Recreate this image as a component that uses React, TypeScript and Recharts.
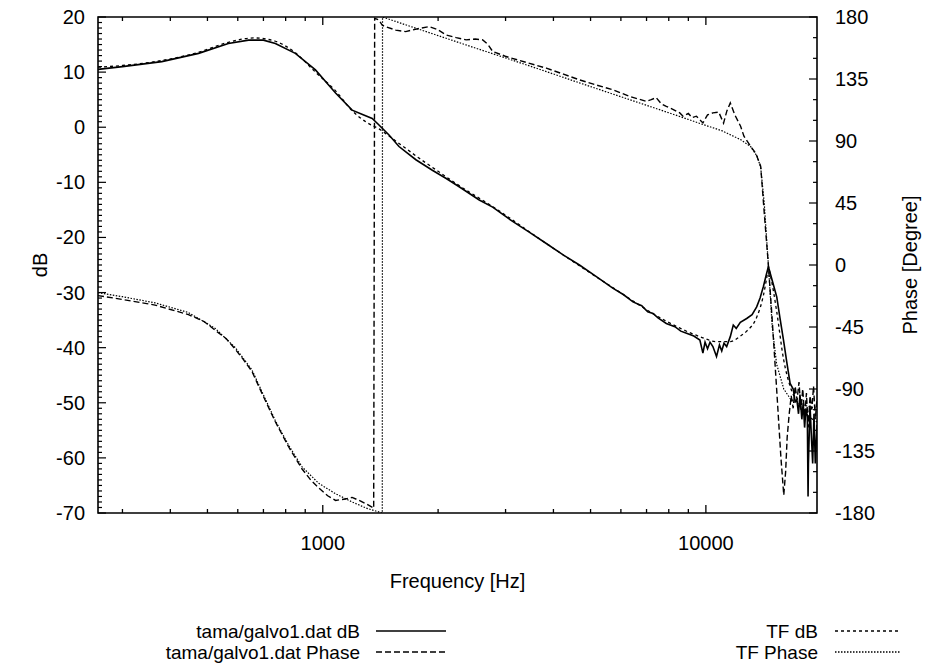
import { ComposedChart, Line, XAxis, YAxis, ReferenceArea, Legend } from "recharts";

type Pt = [number, number];

// frequency [Hz], value
const galvoDb: Pt[] = [
  [259, 10.5], [300, 11.0], [380, 11.9], [474, 13.4], [567, 15.2], [640, 15.8], [700, 15.8],
  [752, 15.2], [848, 13.4], [957, 10.4], [1080, 6.2], [1193, 3.1], [1270, 2.3], [1346, 1.6],
  [1402, 0.4], [1489, -1.4], [1581, -3.5], [1750, -5.9], [1932, -7.8], [2100, -9.3],
  [2270, -10.8], [2561, -13.2], [2776, -14.5], [3130, -17.1], [3450, -19.0], [3832, -21.1],
  [4250, -23.2], [4677, -25.0], [5200, -27.2], [5714, -29.2], [6100, -30.4], [6452, -31.7],
  [6800, -32.4], [7050, -33.5], [7278, -33.8], [7500, -34.6], [7883, -35.6], [8300, -36.2],
  [8600, -37.0], [8903, -37.4], [9300, -37.9], [9645, -38.6], [9822, -41.0], [9950, -39.0],
  [10100, -40.2], [10250, -39.0], [10430, -39.8], [10660, -41.6], [10850, -39.5], [11000, -40.6],
  [11150, -39.2], [11330, -39.8], [11580, -38.0], [11790, -35.9], [12000, -36.5], [12300, -35.4],
  [12780, -34.7], [13200, -34.0], [13570, -32.6], [13850, -31.0], [14130, -28.9], [14350, -27.0],
  [14560, -25.3], [14900, -27.8], [15310, -30.8], [15600, -34.5], [15940, -38.6], [16250, -42.5],
  [16590, -46.5], [16900, -47.5], [17100, -49.8], [17280, -49.5], [17450, -52.0], [17600, -48.5],
  [17800, -53.0], [17950, -50.0], [18100, -54.5], [18250, -51.0], [18400, -52.5], [18480, -67.0],
  [18520, -61.0], [18700, -50.5], [18850, -56.0], [19000, -61.0], [19150, -52.0], [19300, -61.0],
  [19500, -54.0],
];

const galvoPhase: Pt[] = [
  [259, -22.2], [300, -25], [365, -29.1], [446, -36.0], [490, -41], [524, -47.4], [560, -53.5],
  [591, -61.1], [620, -68.5], [653, -77.1], [694, -93.2], [752, -113.8], [815, -132.1],
  [883, -148.1], [930, -156], [976, -161.8], [1030, -167.5], [1080, -170.9], [1146, -169.8],
  [1193, -168.7], [1260, -171.5], [1320, -174.5], [1358, -176.5], [1366, 179], [1402, 177.8],
  [1430, 174], [1459, 173], [1550, 170.5], [1646, 169.4], [1770, 171.5], [1894, 173], [1990, 171],
  [2097, 167], [2230, 165], [2366, 163.4], [2500, 164], [2615, 163.4], [2700, 160], [2776, 155],
  [3011, 151.3], [3400, 147], [3832, 142.9], [4250, 138.5], [4677, 134.4], [5200, 130.5],
  [5714, 127.2], [6300, 122.5], [6984, 118.8], [7200, 120], [7418, 121.5], [7650, 117],
  [7883, 115.1], [8200, 113], [8546, 110.4], [8717, 108], [9000, 110], [9200, 107], [9445, 108],
  [9822, 103.1], [10100, 109], [10430, 110.4], [10800, 111], [11120, 103], [11350, 112],
  [11580, 117.6], [11900, 109], [12320, 100.7], [12570, 93.5], [13080, 86.2], [13500, 81],
  [13900, 71.7], [14200, 38], [14560, 0], [14900, -40], [15300, -90], [15700, -140],
  [15970, -167], [16150, -150], [16300, -125], [16500, -108], [16700, -95], [16900, -104],
  [17100, -88], [17300, -98], [17500, -85], [17700, -105], [17900, -90], [18100, -110],
  [18300, -93], [18500, -118], [18700, -95], [18900, -105], [19100, -88], [19300, -112],
  [19500, -97],
];

const tfDb: Pt[] = [
  [259, 10.9], [300, 11.2], [380, 12.1], [474, 13.6], [567, 15.4], [660, 16.2], [752, 15.6],
  [848, 13.5], [957, 10.0], [1080, 6.6], [1193, 3.0], [1300, 0.9], [1402, -0.3], [1489, -1.6],
  [1600, -3.2], [1800, -5.8], [2000, -8.0], [2270, -10.6], [2776, -14.4], [3832, -21.1],
  [5714, -29.1], [7883, -35.2], [9645, -38.0], [10660, -38.9], [11580, -38.9], [12300, -37.9],
  [12780, -37.0], [13570, -34.5], [14130, -30.5], [14400, -27.5], [14560, -25.6], [14800, -27.5],
  [15310, -33.5], [15940, -42.0], [16590, -47.0], [17280, -49.8], [18000, -51.5], [19000, -53.0],
  [19500, -53.5],
];

const tfPhase: Pt[] = [
  [259, -20.0], [300, -23.0], [365, -27.5], [446, -34.5], [524, -46.0], [591, -60.0],
  [653, -76.0], [694, -92.0], [752, -113.0], [815, -131.0], [883, -146.5], [976, -158.5],
  [1080, -166.0], [1193, -172.0], [1300, -176.5], [1430, -180.0], [1432, 180.0], [1700, 173],
  [2000, 166.5], [2500, 157.5], [3000, 150.3], [3832, 140.4], [4677, 132.2], [5714, 124.1],
  [7000, 115.9], [8546, 107.8], [9822, 102.0], [11000, 97.5], [12320, 91], [13080, 86],
  [13600, 79], [13900, 71], [14200, 45], [14560, 0], [14900, -45], [15300, -72], [15970, -90],
  [16600, -97], [17500, -101], [19500, -104],
];

const X_DOMAIN = [259, 19500];
const X_TICKS = [300, 400, 500, 600, 700, 800, 900, 1000, 2000, 3000, 4000, 5000, 6000, 7000, 8000, 9000, 10000];
const X_LABELS = [1000, 10000];
const DB_LABELS = [20, 10, 0, -10, -20, -30, -40, -50, -60, -70];
const PHASE_LABELS = [180, 135, 90, 45, 0, -45, -90, -135, -180];
const DB_TICKS = Array.from({ length: 91 }, (_, i) => -70 + i);
const PHASE_TICKS = Array.from({ length: 25 }, (_, i) => -180 + i * 15);

const LEGEND_LEFT = ["tama/galvo1.dat dB", "tama/galvo1.dat Phase"];
const LEGEND_RIGHT = ["TF dB", "TF Phase"];

const FONT = '"Liberation Sans", Arial, Helvetica, sans-serif';
const PLOT_TOP = 17;
const DASH = { galvoDb: undefined, galvoPhase: "6 3", tfDb: "3 3", tfPhase: "1.5 1.5" };

const toRows = (pts: Pt[]) => pts.map(([f, v]) => ({ f, v }));

const XTick = ({ x, y, payload }: any) => {
  const major = X_LABELS.includes(payload.value);
  const len = major ? 8 : 4;
  return (
    <g>
      <line x1={x} x2={x} y1={y} y2={y - len} stroke="#000" strokeWidth={1.3} />
      <line x1={x} x2={x} y1={PLOT_TOP} y2={PLOT_TOP + len} stroke="#000" strokeWidth={1.3} />
      {major && (
        <text x={x} y={y + 30} dy="0.35em" textAnchor="middle" fontSize={20} fontFamily={FONT} fill="#000">
          {payload.value}
        </text>
      )}
    </g>
  );
};

const DbTick = ({ x, y, payload }: any) => {
  const major = DB_LABELS.includes(payload.value);
  return (
    <g>
      <line x1={x} x2={x + (major ? 8 : 4)} y1={y} y2={y} stroke="#000" strokeWidth={1.2} />
      {major && (
        <text x={x - 13} y={y} dy="0.35em" textAnchor="end" fontSize={20} fontFamily={FONT} fill="#000">
          {payload.value}
        </text>
      )}
    </g>
  );
};

const PhaseTick = ({ x, y, payload }: any) => {
  const major = PHASE_LABELS.includes(payload.value);
  return (
    <g>
      <line x1={x} x2={x - (major ? 8 : 4)} y1={y} y2={y} stroke="#000" strokeWidth={1.2} />
      {major && (
        <text x={x + 18} y={y} dy="0.35em" textAnchor="start" fontSize={20} fontFamily={FONT} fill="#000">
          {payload.value}
        </text>
      )}
    </g>
  );
};

const dbLabel = ({ viewBox }: any) => {
  const cx = viewBox.x + 40;
  const cy = viewBox.y + viewBox.height / 2;
  return (
    <text x={cx} y={cy} dy="0.35em" textAnchor="middle" transform={`rotate(-90 ${cx} ${cy})`} fontSize={20} fontFamily={FONT}>
      dB
    </text>
  );
};

const phaseLabel = ({ viewBox }: any) => {
  const cx = viewBox.x + 93;
  const cy = viewBox.y + viewBox.height / 2;
  return (
    <text x={cx} y={cy} dy="0.35em" textAnchor="middle" transform={`rotate(-90 ${cx} ${cy})`} fontSize={20} fontFamily={FONT}>
      Phase [Degree]
    </text>
  );
};

const freqLabel = ({ viewBox }: any) => (
  <text x={viewBox.x + viewBox.width / 2} y={viewBox.y + 68} dy="0.35em" textAnchor="middle" fontSize={20} fontFamily={FONT}>
    Frequency [Hz]
  </text>
);

const LegendBox = () => {
  const rows = [
    { name: LEGEND_LEFT[0], dash: DASH.galvoDb, tx: 360, lx: 376, w: 70, row: 0 },
    { name: LEGEND_LEFT[1], dash: DASH.galvoPhase, tx: 360, lx: 376, w: 70, row: 1 },
    { name: LEGEND_RIGHT[0], dash: DASH.tfDb, tx: 818, lx: 835, w: 66, row: 0 },
    { name: LEGEND_RIGHT[1], dash: DASH.tfPhase, tx: 818, lx: 835, w: 66, row: 1 },
  ];
  return (
    <svg width={925} height={50} style={{ display: "block" }}>
      {rows.map((r) => {
        const y = 13 + r.row * 21;
        return (
          <g key={r.name}>
            <text x={r.tx} y={y} dy="0.35em" textAnchor="end" fontSize={19} fontFamily={FONT}>
              {r.name}
            </text>
            <line x1={r.lx} x2={r.lx + r.w} y1={y} y2={y} stroke="#000" strokeWidth={1.3} strokeDasharray={r.dash} />
          </g>
        );
      })}
    </svg>
  );
};

export default function App() {
  return (
    <div style={{ position: "absolute", left: 0, top: 0, width: 925, height: 665, background: "#fff" }}>
      <ComposedChart width={925} height={665} margin={{ top: PLOT_TOP, right: 0, bottom: 0, left: 0 }}>
        <XAxis
          dataKey="f"
          type="number"
          scale="log"
          domain={X_DOMAIN}
          allowDataOverflow
          ticks={X_TICKS}
          interval={0}
          height={152}
          tickSize={0}
          tickMargin={0}
          tickLine={false}
          axisLine={false}
          tick={<XTick />}
          label={freqLabel}
        />
        <YAxis
          yAxisId="db"
          orientation="left"
          domain={[-70, 20]}
          allowDataOverflow
          ticks={DB_TICKS}
          interval={0}
          width={98}
          tickSize={0}
          tickMargin={0}
          tickLine={false}
          axisLine={false}
          tick={<DbTick />}
          label={dbLabel}
        />
        <YAxis
          yAxisId="ph"
          orientation="right"
          domain={[-180, 180]}
          allowDataOverflow
          ticks={PHASE_TICKS}
          interval={0}
          width={108}
          tickSize={0}
          tickMargin={0}
          tickLine={false}
          axisLine={false}
          tick={<PhaseTick />}
          label={phaseLabel}
        />
        <ReferenceArea yAxisId="db" x1={X_DOMAIN[0]} x2={X_DOMAIN[1]} y1={-70} y2={20} fill="none" stroke="#000" strokeWidth={1.6} />
        <Line yAxisId="db" data={toRows(galvoDb)} dataKey="v" type="linear" dot={false} stroke="#000" strokeWidth={1.6} isAnimationActive={false} name={LEGEND_LEFT[0]} />
        <Line yAxisId="ph" data={toRows(galvoPhase)} dataKey="v" type="linear" dot={false} stroke="#000" strokeWidth={1.4} strokeDasharray={DASH.galvoPhase} isAnimationActive={false} name={LEGEND_LEFT[1]} />
        <Line yAxisId="db" data={toRows(tfDb)} dataKey="v" type="monotone" dot={false} stroke="#000" strokeWidth={1.3} strokeDasharray={DASH.tfDb} isAnimationActive={false} name={LEGEND_RIGHT[0]} />
        <Line yAxisId="ph" data={toRows(tfPhase)} dataKey="v" type="linear" dot={false} stroke="#000" strokeWidth={1.2} strokeDasharray={DASH.tfPhase} isAnimationActive={false} name={LEGEND_RIGHT[1]} />
        <Legend
          layout="horizontal"
          verticalAlign="middle"
          align="center"
          content={() => <LegendBox />}
          wrapperStyle={{ position: "absolute", left: 0, top: 618, width: 925, height: 50 }}
        />
      </ComposedChart>
    </div>
  );
}
